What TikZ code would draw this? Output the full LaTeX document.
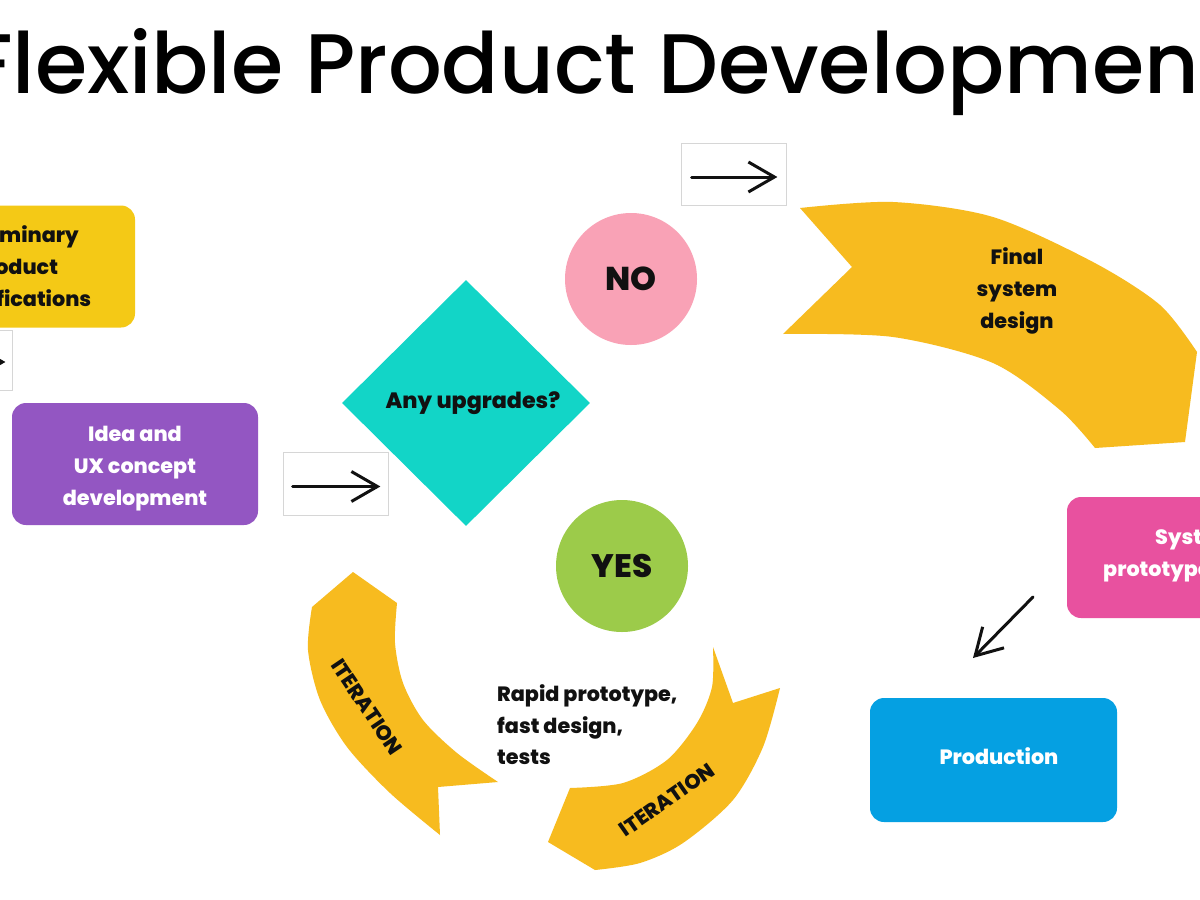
\documentclass[tikz,border=0pt]{standalone}
\usepackage{fontspec}
\setmainfont{Poppins}[BoldFont={Poppins ExtraBold}]
\newfontfamily\titlefont{Poppins Medium}
\usetikzlibrary{arrows.meta,shapes.geometric}
\definecolor{boxyellow}{HTML}{F4C916}
\definecolor{arrowyellow}{HTML}{F7BB1F}
\definecolor{ideapurple}{HTML}{9356C2}
\definecolor{teal}{HTML}{12D5C7}
\definecolor{nopink}{HTML}{F9A2B6}
\definecolor{yesgreen}{HTML}{9CCB4A}
\definecolor{protopink}{HTML}{E8519F}
\definecolor{prodblue}{HTML}{05A0E2}
\definecolor{framegray}{HTML}{D6D6D6}
\definecolor{ink}{HTML}{111111}
\begin{document}
\begin{tikzpicture}[x=1pt,y=-1pt,
  stage/.style={rounded corners=14pt, inner sep=0pt,
    minimum width=246pt, minimum height=122pt},
  arrowframe/.style={draw=framegray, line width=0.8pt, fill=white, inner sep=0pt,
    minimum width=105pt, minimum height=62pt},
  flowarrow/.style={draw=ink, line width=3pt, line cap=round,
    -{Straight Barb[length=26pt,width=30pt,line width=3pt]}},
  label/.style={text=ink, font=\fontsize{20.7}{32}\selectfont\bfseries, align=center, inner sep=0pt},
  bubble/.style={circle, minimum size=132pt, inner sep=0pt, text=ink,
    font=\fontsize{33}{33}\selectfont\bfseries}]
\path[use as bounding box] (0,0) rectangle (1200,900);
\clip (0,0) rectangle (1200,900);
\fill[white] (0,0) rectangle (1200,900);

% title
\node[anchor=base west, inner sep=0pt, text=black, font=\fontsize{84.5}{84.5}\selectfont\titlefont] (title) at (-31,93) {Flexible Product Development};

% stage boxes
\node[stage, fill=boxyellow] (spec) at (12,266.5) {};
\node[label] (spect) at (15,269) {Preliminary\\product\\specifications};
\node[stage, fill=ideapurple] (idea) at (135,464) {};
\node[label, text=white] (ideat) at (135,469) {Idea and\\UX concept\\development};
\node[stage, fill=protopink, minimum width=250pt, minimum height=121pt] (proto) at (1192,557.5) {};
\node[label, anchor=west, text=white, align=left] (protot) at (1103,556) {\hspace*{52pt}System\\prototype};
\node[stage, fill=prodblue, minimum width=247pt, minimum height=124pt] (prod) at (993.5,760) {};
\node[label, text=white] (prodt) at (999,756) {Production};

% arrow frames
\node[arrowframe] (f1) at (733.5,174) {};
\node[arrowframe, minimum height=63pt] (f2) at (335.5,483.5) {};
\node[arrowframe, minimum height=60pt] (f3) at (-40.5,360) {};
\draw[flowarrow] ([xshift=11pt,yshift=-3pt]f1.west) -- ([xshift=-9pt,yshift=-3pt]f1.east);
\draw[flowarrow] ([xshift=10pt,yshift=-3pt]f2.west) -- ([xshift=-8pt,yshift=-3pt]f2.east);
\draw[flowarrow] ([xshift=10pt,yshift=-2pt]f3.west) -- ([xshift=-7pt,yshift=-2pt]f3.east);

% decision
\node[diamond, fill=teal, minimum width=248pt, minimum height=246pt, inner sep=0pt] (dec) at (466,403) {};
\node[label, font=\fontsize{22.2}{22.2}\selectfont\bfseries] (dect) at (473,403) {Any upgrades?};
\node[bubble, fill=nopink] (no) at (631,279) {NO};
\node[bubble, fill=yesgreen, font=\fontsize{32.5}{32.5}\selectfont\bfseries] (yes) at (622,566) {YES};

% big curved arrow
\fill[arrowyellow] plot[smooth] coordinates {(800,208) (893,202) (993,217) (1093,262) (1160,305) (1197,352)}
  -- (1185,442) -- (1095,448)
  -- plot[smooth] coordinates {(1095,448) (1060,410) (993,363) (893,337) (783,334)}
  -- (852,267) -- cycle;
\node[label] (final) at (1017,291) {Final\\system\\design};

% iteration arrows
\fill[arrowyellow] plot[smooth] coordinates {(312,607) (308,650) (320,700) (347,747) (390,793) (440,835)}
  -- (438,787)
  -- plot[smooth] coordinates {(498,782) (457,753) (423,720) (403,683) (395,643) (397,603)}
  -- (353,572) -- cycle;
\fill[arrowyellow] plot[smooth] coordinates {(713,647) (712,687) (697,723) (667,760) (623,783) (570,788)}
  -- (548,842)
  -- plot[smooth] coordinates {(595,870) (640,863) (683,843) (733,800) (763,747) (780,688)}
  -- (733,703) -- cycle;
\node[label, rotate=-56] (it1) at (367,707) {ITERATION};
\node[label, rotate=35] (it2) at (667,800) {ITERATION};
\node[label, align=left, anchor=west, font=\fontsize{20.7}{31.5}\selectfont\bfseries] (rapid) at (497,725) {Rapid prototype,\\fast design,\\tests};

% production arrow
\coordinate (d1) at (1033,597);
\coordinate (d2) at (973,658);
\draw[flowarrow] (d1) -- (d2);
\end{tikzpicture}
\end{document}
